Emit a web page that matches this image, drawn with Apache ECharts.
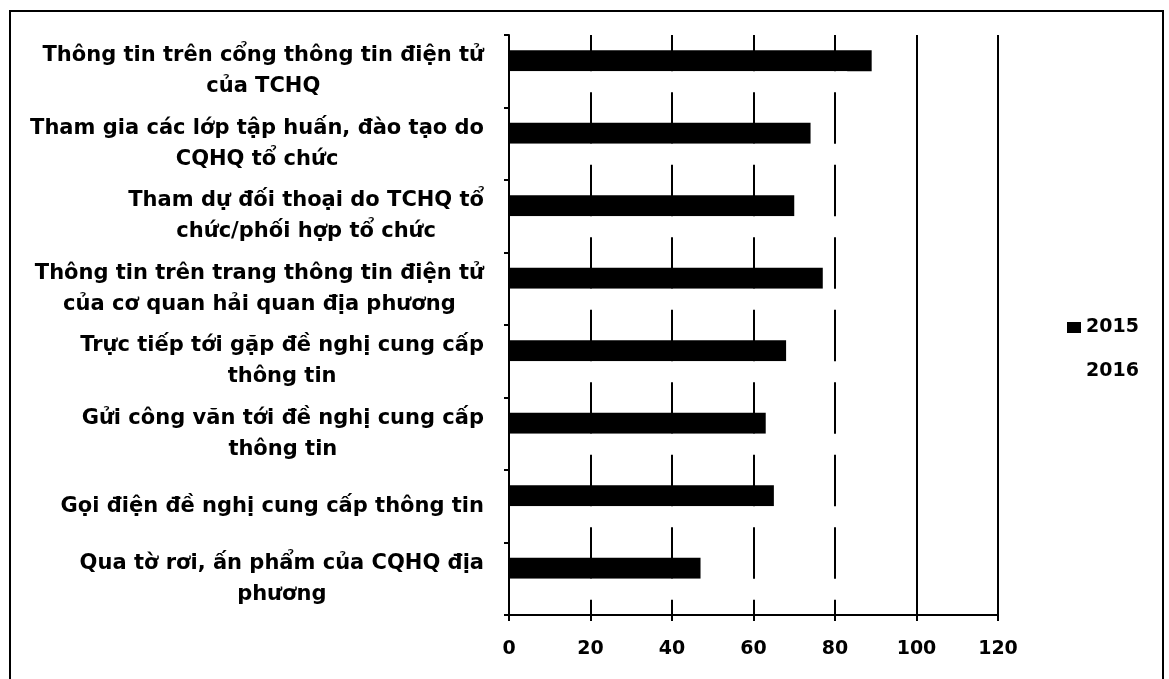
<!DOCTYPE html>
<html>
<head>
<meta charset="utf-8">
<title>Kênh tiếp cận thông tin</title>
<script src="https://cdn.jsdelivr.net/npm/echarts@6/dist/echarts.min.js"></script>
<style>
  html, body { margin: 0; padding: 0; background: #fff; }
  #chart { width: 1169px; height: 679px; }
</style>
</head>
<body>
<div id="chart"></div>
<script>
// Categories, top to bottom as in the picture
const categories = [
    'Thông tin trên cổng thông tin điện tử\ncủa TCHQ',
    'Tham gia các lớp tập huấn, đào tạo do\nCQHQ tổ chức',
    'Tham dự đối thoại do TCHQ tổ\nchức/phối hợp tổ chức',
    'Thông tin trên trang thông tin điện tử\ncủa cơ quan hải quan địa phương',
    'Trực tiếp tới gặp đề nghị cung cấp\nthông tin',
    'Gửi công văn tới đề nghị cung cấp\nthông tin',
    'Gọi điện đề nghị cung cấp thông tin',
    'Qua tờ rơi, ấn phẩm của CQHQ địa\nphương'
];
const seriesNames = ['2015', '2016'];
const values2015 = [89, 74, 70, 77, 68, 63, 65, 47];
// 2016 bars are drawn white (they only hide the grid lines)
const values2016 = [83, 95, 86, 86, 89, 88, 82, 82];
const xTicks = [0, 20, 40, 60, 80, 100, 120];

const FONT = '"DejaVu Sans", Arial, sans-serif';

// Centre every line of a wrapped label inside its block
function centredLabel(text) {
    return text.split('\n').map(line => '{c|' + line + '}').join('\n');
}

const chart = echarts.init(document.getElementById('chart'));

const option = {
    backgroundColor: '#fff',
    animation: false,
    textStyle: { fontFamily: FONT, color: '#000' },
    grid: {
        left: 509,
        right: 171,
        top: 35,
        bottom: 64
    },
    legend: {
        orient: 'vertical',
        left: 1062,
        top: 313,
        icon: 'rect',
        itemWidth: 14,
        itemHeight: 11,
        itemGap: 25,
        data: seriesNames,
        textStyle: { fontFamily: FONT, fontSize: 19, fontWeight: 'bold', color: '#000' }
    },
    xAxis: {
        type: 'value',
        min: xTicks[0],
        max: xTicks[xTicks.length - 1],
        interval: 20,
        axisLine: { show: true, lineStyle: { color: '#000', width: 2 } },
        axisTick: { show: true, length: 6, lineStyle: { color: '#000', width: 2 } },
        axisLabel: { margin: 25, fontFamily: FONT, fontSize: 19, fontWeight: 'bold', color: '#000' },
        splitLine: { show: true, lineStyle: { color: '#000', width: 2 } }
    },
    yAxis: {
        type: 'category',
        inverse: true,
        z: 5,
        data: categories,
        axisLine: { show: true, lineStyle: { color: '#000', width: 2 } },
        axisTick: { show: true, length: 5, lineStyle: { color: '#000', width: 2 } },
        axisLabel: {
            margin: 25,
            formatter: centredLabel,
            rich: {
                c: {
                    align: 'center',
                    fontFamily: FONT,
                    fontSize: 21,
                    fontWeight: 'bold',
                    lineHeight: 31,
                    color: '#000'
                }
            }
        }
    },
    series: [
        {
            name: seriesNames[0],
            type: 'bar',
            data: values2015,
            barWidth: 21,
            barGap: '0%',
            itemStyle: { color: '#000' }
        },
        {
            name: seriesNames[1],
            type: 'bar',
            data: values2016,
            barWidth: 21,
            itemStyle: { color: '#fff' }
        }
    ],
    graphic: [
        {
            type: 'rect',
            shape: { x: 10, y: 11, width: 1153, height: 700 },
            style: { fill: 'none', stroke: '#000', lineWidth: 2 },
            silent: true
        }
    ]
};

chart.setOption(option);
</script>
</body>
</html>
